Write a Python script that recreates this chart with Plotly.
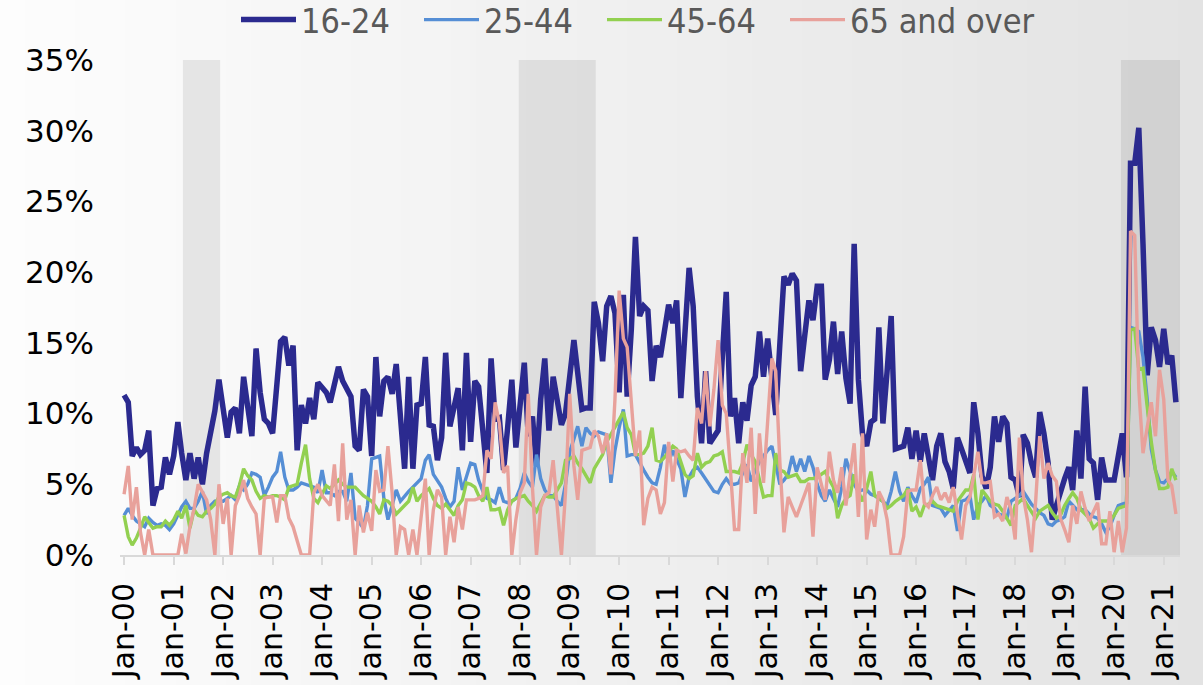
import pandas as pd
import plotly.graph_objects as go

# monthly unemployment rate by age group, Jan 2000 - Apr 2021 (%)
age_16_24 = [
    11.3, 10.8, 7.0, 7.6, 7.1, 7.4, 8.8, 3.5, 4.7, 4.8, 6.9, 5.7,
    7.0, 9.4, 7.2, 5.3, 7.2, 5.4, 6.9, 5.0, 7.2, 8.8, 10.2, 12.4,
    10.5, 8.3, 10.1, 10.4, 8.6, 12.6, 10.5, 8.4, 14.6, 11.5, 9.6, 9.3,
    8.6, 12.0, 15.1, 15.4, 13.4, 14.8, 7.4, 10.6, 9.3, 11.1, 9.6, 12.2,
    11.8, 11.5, 10.8, 12.0, 13.3, 12.3, 11.7, 11.2, 7.7, 7.4, 11.7, 11.2,
    7.0, 14.0, 9.8, 12.3, 12.6, 11.4, 13.5, 9.8, 6.1, 12.6, 6.1, 10.6,
    10.7, 14.0, 9.2, 9.1, 6.7, 8.3, 14.3, 9.1, 10.5, 11.8, 7.4, 14.3,
    8.0, 12.3, 11.9, 8.5, 5.8, 13.9, 9.6, 9.7, 6.0, 9.0, 12.4, 7.6,
    10.5, 13.6, 8.4, 9.8, 6.3, 11.0, 13.9, 8.8, 12.6, 11.0, 9.2, 10.0,
    12.6, 15.2, 12.9, 10.3, 10.4, 10.4, 17.9, 16.4, 13.7, 17.6, 18.3, 17.1,
    11.5, 18.4, 11.2, 16.0, 22.5, 16.9, 17.6, 17.3, 12.3, 14.8, 14.0, 15.8,
    17.7, 16.4, 18.0, 11.1, 15.5, 20.3, 17.6, 11.2, 7.9, 13.0, 7.9, 8.3,
    8.8, 14.0, 18.6, 9.8, 11.1, 7.9, 10.8, 9.5, 12.0, 12.6, 15.8, 12.6,
    15.3, 12.5, 9.9, 15.0, 19.7, 19.1, 19.9, 19.4, 13.0, 15.5, 18.0, 16.6,
    19.0, 19.0, 12.4, 13.8, 16.5, 12.8, 15.8, 12.5, 10.7, 22.0, 12.4, 8.6,
    7.7, 9.4, 9.6, 16.1, 9.3, 13.0, 16.9, 7.5, 7.6, 7.7, 9.0, 6.8,
    8.8, 6.6, 8.6, 6.6, 5.3, 7.7, 8.6, 6.6, 5.9, 4.7, 8.3, 7.5,
    6.5, 5.8, 10.8, 8.6, 5.6, 4.7, 6.2, 9.8, 8.0, 9.8, 9.3, 5.5,
    5.3, 4.1, 8.5, 7.9, 6.5, 5.5, 10.1, 8.6, 6.5, 2.5, 3.5, 4.6,
    5.4, 6.2, 4.6, 8.8, 5.4, 11.9, 6.8, 6.5, 3.9, 6.9, 5.3, 5.3,
    5.3, 7.0, 8.6, 5.5, 27.7, 27.7, 30.2, 22.0, 12.7, 16.1, 15.2, 13.3,
    16.0, 13.5, 14.1, 10.8,
]

age_25_44 = [
    2.8, 3.3, 2.8, 2.4, 2.2, 2.0, 2.6, 2.3, 2.1, 2.2, 2.1, 1.8,
    2.2, 2.8, 3.4, 3.8, 3.3, 3.3, 3.8, 4.5, 2.9, 3.5, 3.8, 3.8,
    3.8, 4.0, 4.2, 3.9, 4.9, 4.6, 5.0, 5.8, 5.7, 5.5, 4.2, 4.8,
    5.5, 5.9, 7.3, 5.5, 4.6, 4.6, 4.8, 5.1, 5.0, 4.9, 4.8, 4.4,
    6.0, 4.4, 4.4, 4.2, 4.5, 4.5, 3.8, 5.8, 2.6, 2.3, 1.9, 3.5,
    6.8, 6.9, 7.0, 4.0, 2.5, 3.5, 4.6, 3.8, 4.2, 4.5, 4.8, 5.1,
    5.4, 6.7, 7.1, 5.7, 5.2, 4.8, 4.0, 3.4, 3.8, 6.2, 4.6, 5.5,
    6.5, 6.4, 5.3, 4.5, 4.0, 3.9, 3.7, 4.8, 3.8, 3.7, 3.8, 4.0,
    4.7, 5.8, 5.2, 4.8, 7.1, 5.4, 4.6, 4.2, 4.2, 3.8, 3.5, 5.0,
    7.3, 8.2, 9.1, 7.7, 9.0, 8.6, 8.4, 8.7, 8.6, 8.5, 5.1, 7.4,
    9.0, 10.3, 7.0, 7.1, 7.1, 6.5, 6.0, 5.5, 5.1, 5.0, 6.2, 7.8,
    6.6, 7.4, 6.8, 6.1, 4.1, 5.5, 6.0, 6.2, 5.8, 5.4, 5.0, 4.5,
    4.4, 5.0, 5.4, 5.0, 5.0, 5.1, 5.8, 6.4, 5.2, 6.0, 6.6, 7.0,
    7.4, 7.7, 6.5, 5.0, 5.3, 5.7, 7.0, 5.9, 6.8, 5.9, 7.0, 6.2,
    5.0, 4.2, 3.8, 4.6, 4.0, 3.4, 4.8, 6.8, 5.9, 5.0, 4.5, 4.6,
    4.6, 4.3, 4.2, 4.0, 3.8, 3.5, 4.5, 5.9, 4.5, 3.8, 4.8, 4.2,
    3.7, 4.7, 5.0, 5.5, 3.5, 3.4, 3.3, 2.8, 3.2, 3.5, 1.7, 3.8,
    3.9, 4.2, 2.5, 3.5, 3.8, 4.2, 3.5, 3.3, 2.9, 2.8, 2.6, 3.8,
    4.0, 4.2, 4.5, 4.0, 3.6, 3.3, 3.0, 2.8, 2.2, 2.1, 2.4, 2.5,
    2.7, 3.8, 3.5, 3.2, 3.2, 3.2, 2.9, 2.7, 2.6, 2.2, 1.6, 2.0,
    2.8, 3.5, 3.6, 3.7, 16.1, 16.0, 15.8, 14.0, 11.0, 7.5, 6.0, 5.2,
    5.1, 5.4, 5.9, 5.5,
]

age_45_64 = [
    2.8, 1.3, 0.7, 1.2, 1.9, 2.7, 2.3, 1.9, 2.0, 2.0, 2.4, 2.1,
    2.5, 3.1, 2.6, 3.5, 1.9, 3.2, 2.8, 2.7, 3.1, 3.3, 3.6, 4.1,
    4.3, 4.4, 4.2, 4.1, 4.9, 6.1, 5.6, 5.3, 4.5, 4.0, 4.2, 4.1,
    4.2, 4.2, 4.1, 3.9, 4.8, 4.9, 5.0, 6.5, 7.8, 5.4, 4.0, 3.7,
    4.3, 4.9, 4.7, 5.0, 5.3, 5.0, 4.8, 4.8, 4.8, 4.5, 4.2, 4.0,
    3.8, 3.4, 2.9, 3.9, 3.8, 3.5, 2.9, 3.2, 3.5, 3.8, 4.8, 3.8,
    4.2, 4.5, 4.7, 4.0, 3.5, 3.3, 3.6, 3.2, 2.8, 3.5, 3.9, 5.1,
    5.0, 4.8, 4.2, 3.8, 4.8, 3.2, 3.2, 3.3, 2.1, 3.2, 3.8, 4.0,
    4.1, 4.2, 3.8, 3.5, 3.1, 3.7, 4.2, 4.1, 4.1, 4.6, 5.1, 6.7,
    6.8, 7.0, 6.5, 6.1, 5.6, 5.1, 6.1, 6.6, 7.1, 8.0, 8.5, 9.0,
    9.6, 10.1, 9.0, 8.5, 7.1, 7.1, 7.2, 7.7, 9.0, 6.7, 6.6, 6.9,
    7.3, 7.7, 7.5, 6.6, 5.7, 5.4, 5.6, 7.2, 6.2, 6.5, 6.6, 7.0,
    7.1, 7.3, 5.9, 5.9, 5.9, 5.8, 6.5, 7.8, 7.1, 6.6, 5.4, 4.1,
    4.2, 4.2, 7.2, 6.0, 5.9, 5.5, 5.6, 5.7, 5.2, 5.2, 5.4, 5.4,
    5.5, 5.7, 5.9, 5.3, 4.8, 2.6, 3.5, 4.0, 4.2, 5.7, 4.5, 3.8,
    4.7, 5.9, 4.2, 4.0, 3.8, 3.3, 3.5, 3.8, 4.0, 4.2, 4.7, 3.1,
    3.4, 2.7, 3.5, 3.6, 3.8, 3.5, 3.4, 3.3, 3.2, 3.1, 3.8, 4.2,
    4.6, 4.6, 5.7, 2.5, 4.6, 4.2, 3.8, 3.6, 3.5, 3.1, 2.6, 2.1,
    3.5, 3.8, 4.0, 3.5, 3.0, 2.6, 3.1, 3.3, 3.5, 3.0, 2.6, 2.8,
    3.5, 4.0, 4.4, 4.0, 3.2, 2.9, 2.6, 1.9, 2.2, 2.4, 2.4, 2.4,
    2.8, 3.3, 3.4, 3.5, 15.9, 16.0, 13.1, 13.2, 10.5, 8.0, 6.0, 4.7,
    4.7, 4.8, 6.1, 5.3,
]

age_65_plus = [
    4.3, 6.3, 2.5, 4.8, 1.6, 0.0, 1.8, 0.0, 0.0, 0.0, 0.0, 0.0,
    0.0, 0.0, 1.5, 0.1, 2.0, 3.3, 5.0, 4.5, 3.9, 2.5, 0.0, 5.0,
    2.2, 4.0, 0.0, 3.5, 4.2, 5.3, 4.0, 3.4, 2.9, 0.0, 4.0, 4.1,
    4.1, 2.3, 4.2, 4.2, 2.6, 2.0, 1.0, 0.0, 0.0, 0.0, 4.4, 5.0,
    4.2, 3.8, 3.5, 6.4, 2.4, 7.9, 2.5, 3.9, 0.0, 3.5, 1.6, 3.0,
    1.7, 6.0, 4.5, 4.6, 7.7, 4.4, 0.0, 2.0, 1.8, 0.0, 1.8, 0.0,
    2.5, 5.4, 0.0, 3.2, 4.6, 4.1, 0.0, 2.7, 0.9, 3.4, 1.8, 3.9,
    3.9, 3.9, 4.0, 4.2, 7.4, 6.8, 10.8, 9.3, 5.8, 6.3, 0.0, 2.5,
    4.4, 5.1, 11.4, 4.8, 0.0, 3.4, 4.2, 4.4, 6.7, 3.5, 0.0, 4.4,
    11.4, 6.3, 3.9, 7.4, 7.5, 7.6, 8.8, 8.4, 7.2, 8.6, 5.7, 11.0,
    18.7, 15.3, 14.7, 11.0, 7.0, 8.8, 2.1, 4.0, 4.8, 4.6, 2.9, 3.7,
    8.0, 5.2, 7.4, 7.3, 7.4, 7.0, 6.7, 10.4, 9.3, 13.0, 9.1, 11.7,
    15.2, 10.6, 10.0, 6.0, 1.8, 1.8, 7.2, 5.1, 9.0, 2.9, 8.6, 5.1,
    9.5, 13.9, 13.0, 6.5, 1.6, 4.1, 3.4, 2.7, 3.5, 4.3, 5.1, 1.3,
    6.2, 5.0, 3.9, 7.3, 5.3, 4.4, 6.2, 3.5, 5.7, 7.9, 2.7, 8.6,
    1.1, 3.2, 2.0, 4.5, 3.9, 2.5, 0.0, 0.0, 0.0, 1.3, 4.5, 4.6,
    4.6, 6.7, 3.7, 3.4, 4.2, 4.8, 3.9, 4.4, 3.7, 4.8, 2.9, 1.1,
    3.5, 4.1, 5.6, 7.3, 5.1, 5.1, 5.2, 2.7, 2.9, 2.4, 4.1, 3.2,
    1.1, 8.3, 4.2, 2.5, 0.2, 3.8, 8.4, 5.4, 6.5, 5.6, 5.2, 2.6,
    1.8, 0.9, 3.5, 2.2, 4.5, 3.3, 2.4, 3.0, 3.7, 0.8, 0.8, 3.1,
    0.2, 2.4, 0.2, 1.9, 22.9, 22.6, 11.7, 7.2, 9.0, 10.8, 8.4, 13.1,
    11.0, 5.3, 4.9, 2.9,
]

series_names = ["16-24", "25-44", "45-64", "65 and over"]
series_values = [age_16_24, age_25_44, age_45_64, age_65_plus]
series_colors = ["#2B2A8F", "#558ED5", "#92D050", "#E8A19B"]
series_widths = [5.5, 3.4, 3.4, 3.4]

# recession periods (shaded)
recessions = [
    ("2001-03-10", "2001-12-10"),
    ("2007-12-22", "2009-07-12"),
    ("2020-02-20", "2021-05-01"),
]

tick_dates = ["2000-01-01", "2001-01-01", "2002-01-01", "2003-01-01", "2004-01-01",
              "2005-01-01", "2006-01-01", "2007-01-01", "2008-01-01", "2009-01-01",
              "2010-01-01", "2011-01-01", "2012-01-01", "2013-01-01", "2014-01-01",
              "2015-01-01", "2016-01-01", "2017-01-01", "2018-01-01", "2019-01-01",
              "2020-01-01", "2021-01-01"]
tick_labels = ["Jan-00", "Jan-01", "Jan-02", "Jan-03", "Jan-04", "Jan-05", "Jan-06",
               "Jan-07", "Jan-08", "Jan-09", "Jan-10", "Jan-11", "Jan-12", "Jan-13",
               "Jan-14", "Jan-15", "Jan-16", "Jan-17", "Jan-18", "Jan-19", "Jan-20",
               "Jan-21"]

y_ticks = [0, 5, 10, 15, 20, 25, 30, 35]
y_tick_labels = ["0%", "5%", "10%", "15%", "20%", "25%", "30%", "35%"]

W, H = 1203, 685
ml, mr, mt, mb = 120, 23, 60, 130
pw, ph = W - ml - mr, H - mt - mb

# one legend per series so each entry sits where it does in the original
legend_px = [236, 419, 602, 785]
legend_ids = ["legend", "legend2", "legend3", "legend4"]

fig = go.Figure()
for name, vals, col, w, lid in zip(series_names, series_values, series_colors,
                                   series_widths, legend_ids):
    months = pd.date_range("2000-01-01", periods=len(vals), freq="MS")
    fig.add_trace(go.Scatter(x=months, y=vals, name=name, mode="lines",
                             line=dict(color=col, width=w), legend=lid))

shapes = []
# soft grey background gradient, light on the left, darker on the right
n = 48
for i in range(n):
    g = round(253 - (253 - 227) * i / (n - 1))
    x0 = (i * W / n - ml) / pw
    x1 = ((i + 1) * W / n - ml) / pw + 0.002
    shapes.append(dict(type="rect", xref="paper", yref="paper",
                       x0=x0, x1=x1, y0=-mb / ph - 0.01, y1=1 + mt / ph + 0.01,
                       fillcolor=f"rgb({g},{g},{g})", line_width=0, layer="below"))
for start, end in recessions:
    shapes.append(dict(type="rect", xref="x", yref="paper", x0=start, x1=end,
                       y0=0, y1=1, fillcolor="rgba(0,0,0,0.08)",
                       line_width=0, layer="below"))

legend_font = dict(family="DejaVu Sans Condensed, DejaVu Sans, sans-serif",
                   size=34, color="#595959")
legends = {}
for lid, px in zip(legend_ids, legend_px):
    legends[lid] = dict(orientation="h", x=(px - ml) / pw, xanchor="left",
                        y=1 + 40 / ph, yanchor="middle", font=legend_font,
                        bgcolor="rgba(0,0,0,0)", itemwidth=55)

fig.update_layout(
    width=W, height=H,
    margin=dict(l=ml, r=mr, t=mt, b=mb, autoexpand=False),
    paper_bgcolor="white",
    plot_bgcolor="rgba(0,0,0,0)",
    shapes=shapes,
    showlegend=True,
    xaxis=dict(range=["1999-12-02", "2021-05-01"],
               tickmode="array", tickvals=tick_dates, ticktext=tick_labels,
               tickangle=-90, showgrid=False, zeroline=False,
               showline=True, linecolor="#D9D9D9", linewidth=2,
               ticks="outside", ticklen=8, tickwidth=2, tickcolor="#D9D9D9",
               tickfont=dict(family="DejaVu Sans", size=30, color="black"),
               ticklabelstandoff=6),
    yaxis=dict(range=[0, 35], tickmode="array", tickvals=y_ticks,
               ticktext=y_tick_labels,
               showgrid=False, zeroline=False, showline=False,
               tickfont=dict(family="DejaVu Sans", size=31, color="black"),
               ticklabelstandoff=25),
    **legends,
)

# drop the page's default body margin so the figure starts at the window corner
fig.write_html("out.html", config={"displayModeBar": False},
               post_script="document.body.style.margin='0';")
